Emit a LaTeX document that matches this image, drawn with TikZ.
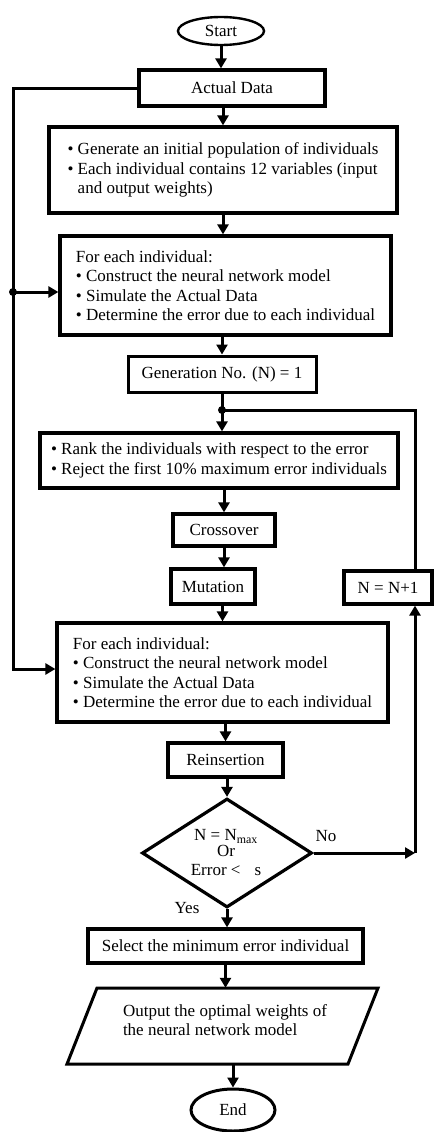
\documentclass[tikz,border=0pt]{standalone}
\usepackage{fontspec}
\setmainfont{Liberation Serif}
\usetikzlibrary{arrows.meta,shapes.geometric}
\begin{document}
\begin{tikzpicture}[x=1pt,y=-1pt,
  font=\fontsize{17}{19.5}\selectfont,
  box/.style={draw,line width=3.2pt,inner sep=0pt,align=left},
  oval/.style={draw,ellipse,line width=2.4pt,inner sep=0pt},
  conn/.style={line width=3pt,-{Triangle[length=10pt,width=11pt]}},
  plain/.style={line width=3pt},
  dot/.style={circle,fill,inner sep=0pt,minimum size=8pt},
  lbl/.style={inner sep=0pt}
]
\useasboundingbox (0,0) rectangle (434,1132);
% nodes
\node[oval,minimum width=86pt,minimum height=28pt] (start) at (221,31) {Start};
\node[box,minimum width=186pt,minimum height=36pt] (data) at (232,88) {Actual Data};
\node[box,minimum width=348pt,minimum height=86pt] (init) at (223,170)
  {• Generate an initial population of individuals\\• Each individual contains 12 variables (input\\\hphantom{• }and output weights)};
\node[box,minimum width=331pt,minimum height=99pt] (evalA) at (225.5,285.5)
  {For each individual:\\• Construct the neural network model\\• Simulate the Actual Data\\• Determine the error due to each individual};
\node[box,line width=3pt,minimum width=188pt,minimum height=36pt] (gen) at (222,374) {Generation No. (N) = 1};
\node[box,minimum width=358pt,minimum height=55pt] (rank) at (219,460.5)
  {• Rank the individuals with respect to the error\\• Reject the first 10\% maximum error individuals};
\node[box,minimum width=102pt,minimum height=32pt] (cross) at (224,530) {Crossover};
\node[box,minimum width=84pt,minimum height=35pt] (mut) at (213,586.5) {Mutation};
\node[box,minimum width=88pt,minimum height=33pt] (inc) at (388,587.5) {N = N+1};
\node[box,minimum width=331pt,minimum height=99pt] (evalB) at (222.5,672.5)
  {For each individual:\\• Construct the neural network model\\• Simulate the Actual Data\\• Determine the error due to each individual};
\node[box,minimum width=115pt,minimum height=34pt] (reins) at (225.5,760) {Reinsertion};
\node[draw,diamond,line width=3.2pt,minimum width=170pt,minimum height=109pt,inner sep=0pt] (dec) at (227,853) {};
\node[lbl,align=center] (dectxt) at (226,853) {N = N\textsubscript{max}\\[-4pt]Or\\Error <\hspace{14pt}s};
\node[box,minimum width=275pt,minimum height=34pt] (sel) at (225.5,946) {Select the minimum error individual};
\node[minimum width=281pt,minimum height=76pt,inner sep=0pt] (out) at (222.5,1026) {};
\draw[line width=3pt] (97,988) -- (378,988) -- (348,1064) -- (67,1064) -- cycle;
\node[lbl,align=left] (outtxt) at (225,1020) {Output the optimal weights of\\the neural network model};
\node[oval,line width=3pt,minimum width=84pt,minimum height=42pt] (end) at (233,1110) {End};
\node[lbl] (no) at (326,836) {No};
\node[lbl] (yes) at (187,908) {Yes};
% helper coordinates
\coordinate (j1) at (222,410);
\coordinate (rx) at (415,0);
\coordinate (a1) at (13,292);
\coordinate (a2) at (13,669);
% connectors
\draw[conn] (start.south) -- (start.south |- data.north);
\draw[conn] (init.north |- data.south) -- (init.north);
\draw[conn] (init.south) -- (init.south |- evalA.north);
\draw[conn] (gen.north |- evalA.south) -- (gen.north);
\draw[plain] (gen.south) -- (j1);
\draw[conn] (j1) -- (j1 |- rank.north);
\draw[plain] (inc.north -| rx) -- (rx |- j1) -- (j1);
\node[dot] (d1) at (j1) {};
\draw[conn] (cross.north |- rank.south) -- (cross.north);
\draw[conn] (cross.south) -- (cross.south |- mut.north);
\draw[conn] (evalB.north |- mut.south) -- (evalB.north);
\draw[conn] (reins.north |- evalB.south) -- (reins.north);
\draw[conn] (dec.north |- reins.south) -- (dec.north);
\draw[conn] (dec.south) -- (dec.south |- sel.north);
\draw[conn] (sel.south) -- (sel.south |- out.north);
\draw[conn] (end.north |- out.south) -- (end.north);
\draw[conn] (dec.east) -- (dec.east -| rx);
\draw[conn] (dec.east -| rx) -- (rx |- inc.south);
\draw[conn] (data.west) -- (data.west -| a1) -- (a2) -- (a2 -| evalB.west);
\draw[conn] (a1) -- (a1 -| evalA.west);
\node[dot] (d2) at (a1) {};
\end{tikzpicture}
\end{document}
